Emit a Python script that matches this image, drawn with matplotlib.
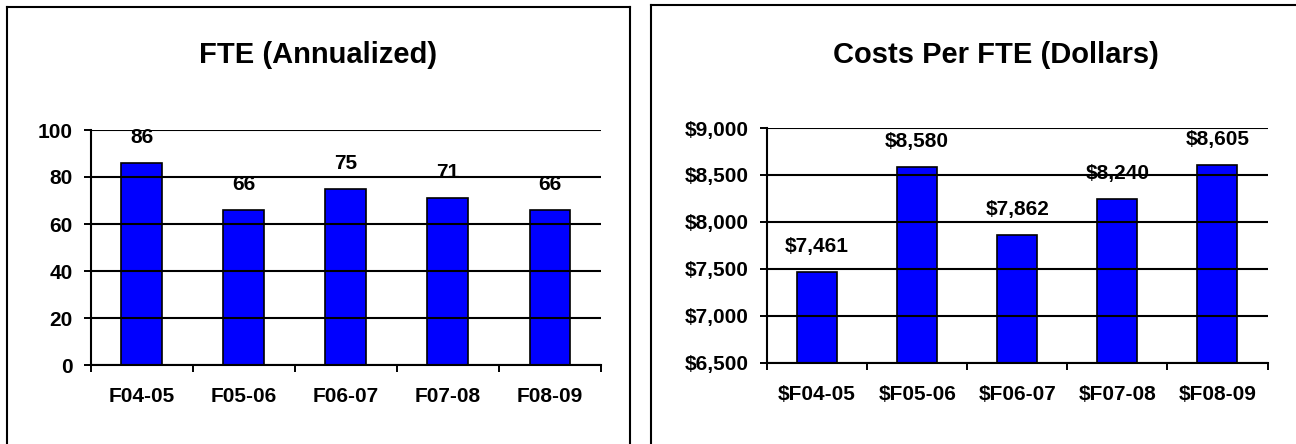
import matplotlib
matplotlib.use("Agg")
import matplotlib.pyplot as plt
from matplotlib.lines import Line2D
from matplotlib.ticker import FuncFormatter, MultipleLocator

# ---- data ----
fte_categories = ["F04-05", "F05-06", "F06-07", "F07-08", "F08-09"]
fte_values = [86, 66, 75, 71, 66]
fte_title = "FTE (Annualized)"

cost_categories = ["$F04-05", "$F05-06", "$F06-07", "$F07-08", "$F08-09"]
cost_values = [7461, 8580, 7862, 8240, 8605]
cost_title = "Costs Per FTE (Dollars)"

plt.rcParams['font.family'] = ['Liberation Sans', 'DejaVu Sans']
plt.rcParams['font.weight'] = 'bold'

W, H = 1296, 444
fig = plt.figure(figsize=(W / 100, H / 100), dpi=100)

def px_axes(x0, y0, x1, y1):
    return fig.add_axes([x0 / W, 1 - y1 / H, (x1 - x0) / W, (y1 - y0) / H])

ax1 = px_axes(90.7, 130, 601, 365)
ax2 = px_axes(767, 128, 1267.5, 362.5)

def style(ax, cats, vals, ymin, ymax, step, fmt, lblfmt):
    n = len(cats)
    x = list(range(n))
    heights = [v - ymin for v in vals]
    ax.bar(x, heights, bottom=ymin, width=0.4, color="#0000FF",
           edgecolor="black", linewidth=1.2, zorder=2)
    ax.set_xlim(-0.5, n - 0.5)
    ax.set_ylim(ymin, ymax)
    ax.yaxis.set_major_locator(MultipleLocator(step))
    ax.yaxis.set_major_formatter(FuncFormatter(fmt))
    ax.grid(axis='y', color='black', linewidth=1.5, zorder=3)
    ax.set_axisbelow(False)
    for s in ['top', 'right']:
        ax.spines[s].set_visible(False)
    for s in ['left', 'bottom']:
        ax.spines[s].set_linewidth(1.5)
        ax.spines[s].set_zorder(4)
    # category boundary ticks on x
    ax.set_xticks([i - 0.5 for i in range(n + 1)], minor=False)
    ax.set_xticklabels([])
    ax.set_xticks(x, minor=True)
    ax.set_xticklabels(cats, minor=True, fontsize=15, fontweight='bold')
    ax.tick_params(axis='x', which='major', length=5, width=1.4, direction='out')
    ax.tick_params(axis='x', which='minor', length=0, pad=16)
    ax.tick_params(axis='y', length=5, width=1.4, direction='out', pad=8,
                   labelsize=15)
    for lab in ax.get_yticklabels():
        lab.set_fontweight('bold')
    for xi, v in zip(x, vals):
        ax.annotate(lblfmt(v), xy=(xi, v), xytext=(0, 18.5),
                    textcoords='offset points', ha='center', va='center',
                    fontsize=15, fontweight='bold', zorder=1)

style(ax1, fte_categories, fte_values, 0, 100, 20,
      lambda v, p: f"{v:.0f}", lambda v: f"{v}")
style(ax2, cost_categories, cost_values, 6500, 9000, 500,
      lambda v, p: f"${v:,.0f}", lambda v: f"${v:,}")

fig.text(318 / W, 1 - 55 / H, fte_title, ha='center', va='center',
         fontsize=21, fontweight='bold')
fig.text(996 / W, 1 - 55 / H, cost_title, ha='center', va='center',
         fontsize=21, fontweight='bold')

# panel borders
def fl(xs, ys):
    fig.add_artist(Line2D([x / W for x in xs], [1 - y / H for y in ys],
                          color='black', linewidth=1.5))

fl([7, 7], [7, 450])
fl([7, 630], [7, 7])
fl([630, 630], [7, 450])
fl([651, 651], [5, 450])
fl([651, 1300], [5, 5])

fig.savefig("out.png", dpi=100, facecolor='white')
